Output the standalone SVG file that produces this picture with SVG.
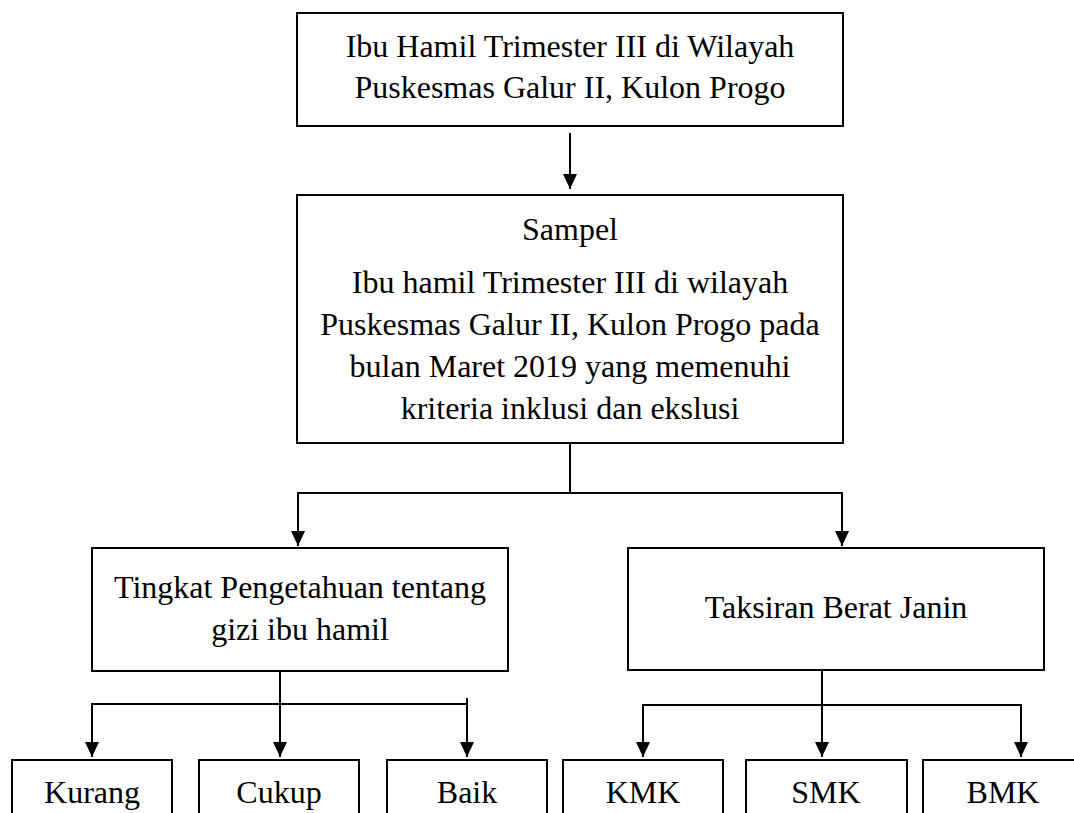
<svg xmlns="http://www.w3.org/2000/svg" width="1074" height="813" viewBox="0 0 1074 813">
<style>
.box{fill:#fff;stroke:#000;stroke-width:2}
.t{font-family:"Liberation Serif","Times New Roman",serif;font-size:32px;fill:#000;text-anchor:middle}
.c{fill:none;stroke:#000;stroke-width:2}
</style>
<defs>
<marker id="ah" markerUnits="userSpaceOnUse" markerWidth="14" markerHeight="15" refX="15" refY="7" orient="auto">
<path d="M0,0 L15,7 L0,14 z" fill="#000"/>
</marker>
</defs>
<rect width="1074" height="813" fill="#fff"/>
<g id="connectors">
<line class="c" x1="570" y1="133" x2="570" y2="189" marker-end="url(#ah)"/>
<polyline class="c" points="570,443 570,493"/>
<polyline class="c" points="570,493 298,493 298,546" marker-end="url(#ah)"/>
<polyline class="c" points="570,493 842,493 842,546" marker-end="url(#ah)"/>
<polyline class="c" points="280,671 280,704"/>
<polyline class="c" points="92,704 467,704"/>
<line class="c" x1="92" y1="703" x2="92" y2="757" marker-end="url(#ah)"/>
<line class="c" x1="280" y1="704" x2="280" y2="757" marker-end="url(#ah)"/>
<line class="c" x1="467" y1="698" x2="467" y2="757" marker-end="url(#ah)"/>
<polyline class="c" points="822,670 822,705"/>
<polyline class="c" points="643,705 1021,705"/>
<line class="c" x1="643" y1="704" x2="643" y2="757" marker-end="url(#ah)"/>
<line class="c" x1="822" y1="705" x2="822" y2="757" marker-end="url(#ah)"/>
<line class="c" x1="1021" y1="704" x2="1021" y2="757" marker-end="url(#ah)"/>
</g>
<g id="populasi">
<rect class="box" x="297" y="13" width="546" height="113"/>
<text class="t" x="570" y="57">Ibu Hamil Trimester III di Wilayah</text>
<text class="t" x="570" y="98">Puskesmas Galur II, Kulon Progo</text>
</g>
<g id="sampel">
<rect class="box" x="297" y="195" width="546" height="248"/>
<text class="t" x="570" y="240">Sampel</text>
<text class="t" x="570" y="293">Ibu hamil Trimester III di wilayah</text>
<text class="t" x="570" y="335">Puskesmas Galur II, Kulon Progo pada</text>
<text class="t" x="570" y="377">bulan Maret 2019 yang memenuhi</text>
<text class="t" x="570" y="419">kriteria inklusi dan ekslusi</text>
</g>
<g id="pengetahuan">
<rect class="box" x="92" y="548" width="416" height="123"/>
<text class="t" x="300" y="598">Tingkat Pengetahuan tentang</text>
<text class="t" x="300" y="640">gizi ibu hamil</text>
</g>
<g id="tbj">
<rect class="box" x="628" y="548" width="416" height="122"/>
<text class="t" x="836" y="618">Taksiran Berat Janin</text>
</g>
<g id="kurang">
<rect class="box" x="12" y="760" width="160" height="70"/>
<text class="t" x="92" y="803">Kurang</text>
</g>
<g id="cukup">
<rect class="box" x="199" y="760" width="160" height="70"/>
<text class="t" x="279" y="803">Cukup</text>
</g>
<g id="baik">
<rect class="box" x="387" y="760" width="160" height="70"/>
<text class="t" x="467" y="803">Baik</text>
</g>
<g id="kmk">
<rect class="box" x="563" y="760" width="160" height="70"/>
<text class="t" x="643" y="803">KMK</text>
</g>
<g id="smk">
<rect class="box" x="746" y="760" width="161" height="70"/>
<text class="t" x="826" y="803">SMK</text>
</g>
<g id="bmk">
<rect class="box" x="923" y="760" width="160" height="70"/>
<text class="t" x="1003" y="803">BMK</text>
</g>
</svg>
